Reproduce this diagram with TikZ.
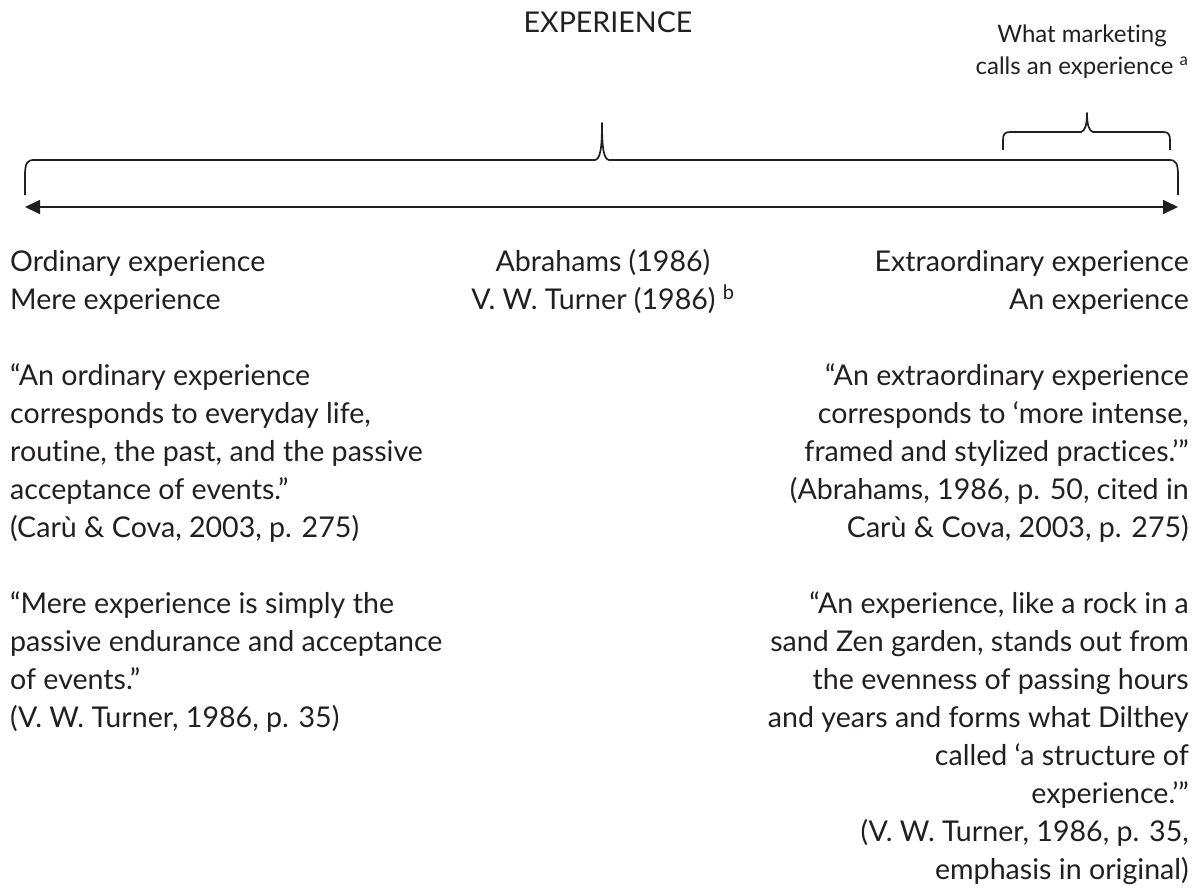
\documentclass[tikz,border=0pt]{standalone}
\usepackage{fontspec}
\setmainfont{Lato}[Ligatures=NoCommon]
\usetikzlibrary{arrows.meta,positioning}
\definecolor{ink}{HTML}{231F20}

\begin{document}
\begin{tikzpicture}[
    x=1pt, y=-1pt,
    every node/.style={inner sep=0pt, text=ink},
    body/.style={font=\fontsize{28.6}{38}\selectfont},
    note/.style={font=\fontsize{24}{32}\selectfont, align=center},
    brace/.style={draw=ink, line width=1.7pt, line join=round},
    axis/.style={draw=ink, line width=1.7pt, {Triangle[length=15pt,width=14pt]}-{Triangle[length=15pt,width=14pt]}}
]
\useasboundingbox (0,0) rectangle (1199,888);

% Headings
\node[body, anchor=base] (title) at (608,33) {EXPERIENCE};
\node[note, anchor=base] (marketing) at (1082,75) {What marketing\\calls an experience \textsuperscript{a}};

% Braces
\draw[brace] (25,195) -- (25,176) .. controls (25,163) and (27,160) .. (34,160)
    -- (595,160) .. controls (600,159) and (602,150) .. (602,123)
    .. controls (602,150) and (604,159) .. (609,160) -- (1169,160)
    .. controls (1176,160) and (1178,163) .. (1178,176) -- (1178,195);
\draw[brace] (1003,150) -- (1003,140) .. controls (1003,134) and (1005,132) .. (1010,132)
    -- (1081,132) .. controls (1085,131) and (1087,125) .. (1087,113)
    .. controls (1087,125) and (1089,131) .. (1093,132) -- (1163,132)
    .. controls (1168,132) and (1170,134) .. (1170,140) -- (1170,150);

% Continuum
\coordinate (ordEnd) at (25,207);
\coordinate (extEnd) at (1178,207);
\draw[axis] (ordEnd) -- (extEnd);

% Column heads (base = last line)
\node[body, align=left, anchor=base west] (ordinary) at (10,309) {Ordinary experience\\Mere experience};
\node[body, align=center, anchor=base] (sources) at (603,309) {Abrahams (1986)\\V. W. Turner (1986) \textsuperscript{b}};
\node[body, align=right, anchor=base east] (extra) at (1189,309) {Extraordinary experience\\An experience};

% Left quotes
\node[body, align=left, anchor=base west] (ordquote) at ([yshift=-228pt]ordinary.base west)
    {“An ordinary experience\\corresponds to everyday life,\\routine, the past, and the passive\\acceptance of events.”\\(Carù \& Cova, 2003, p. 275)};
\node[body, align=left, anchor=base west] (merequote) at ([yshift=-190pt]ordquote.base west)
    {“Mere experience is simply the\\passive endurance and acceptance\\of events.”\\(V. W. Turner, 1986, p. 35)};

% Right quotes
\node[body, align=right, anchor=base east] (extquote) at ([yshift=-228pt]extra.base east)
    {“An extraordinary experience\\corresponds to ‘more intense,\\framed and stylized practices.’”\\(Abrahams, 1986, p. 50, cited in\\Carù \& Cova, 2003, p. 275)};
\node[body, align=right, anchor=base east] (anquote) at ([yshift=-342pt]extquote.base east)
    {“An experience, like a rock in a\\sand Zen garden, stands out from\\the evenness of passing hours\\and years and forms what Dilthey\\called ‘a structure of\\experience.’”\\(V. W. Turner, 1986, p. 35,\\emphasis in original)};

\end{tikzpicture}
\end{document}
